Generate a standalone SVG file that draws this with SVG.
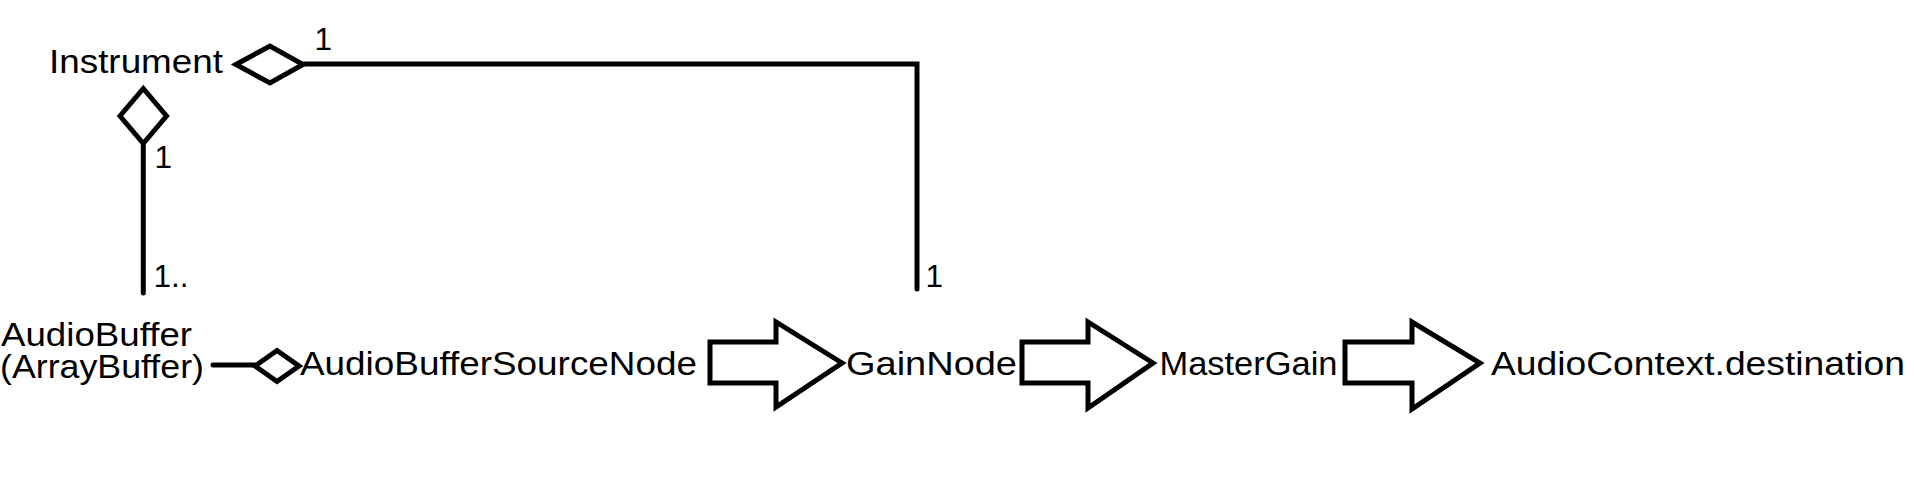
<svg xmlns="http://www.w3.org/2000/svg" width="1914" height="482" viewBox="0 0 1914 482">
<style>
  .lbl { font-family: "Liberation Sans", Arial, Helvetica, sans-serif; font-size: 33.5px; fill: #000; }
  .mult { font-family: "Liberation Sans", Arial, Helvetica, sans-serif; font-size: 31.5px; fill: #000; }
  .ln { fill: none; stroke: #000; stroke-width: 5; stroke-linecap: round; stroke-linejoin: miter; }
  .dia { fill: #fff; stroke: #000; stroke-width: 5; stroke-linejoin: miter; }
  .arrow { fill: #fff; stroke: #000; stroke-width: 5; stroke-linejoin: miter; }
</style>
<rect width="1914" height="482" fill="#fff"/>

<g id="connectors">
  <polyline class="ln" points="303,64 917,64 917,289"/>
  <line class="ln" x1="143.3" y1="143" x2="143.3" y2="293"/>
  <line class="ln" x1="213" y1="365" x2="255" y2="365"/>
  <polygon class="dia" points="236,64.5 270,46 303,64.5 270,83"/>
  <polygon class="dia" points="143.3,88.5 166.5,116 143.3,143.5 120,116"/>
  <polygon class="dia" points="255,366 277,350.5 299,366 277,381.5"/>
  <polygon class="arrow" points="710,342 776,342 776,322 842,363 776,407 776,383 710,383"/>
  <polygon class="arrow" points="1022,342 1088,342 1088,322 1153,363 1088,408 1088,383 1022,383"/>
  <polygon class="arrow" points="1345,342 1412,342 1412,322 1480,363 1412,409 1412,383 1345,383"/>
  <text class="mult" x="314.5" y="50">1</text>
  <text class="mult" x="154.5" y="168">1</text>
  <text class="mult" x="153.5" y="287">1..</text>
  <text class="mult" x="925.5" y="287">1</text>
</g>

<g id="instrument">
  <text class="lbl" x="49" y="73.3" textLength="174" lengthAdjust="spacingAndGlyphs">Instrument</text>
</g>
<g id="audiobuffer">
  <text class="lbl"><tspan x="1" y="345.5" textLength="191" lengthAdjust="spacingAndGlyphs">AudioBuffer</tspan><tspan x="0" y="378" textLength="204" lengthAdjust="spacingAndGlyphs">(ArrayBuffer)</tspan></text>
</g>
<g id="audiobuffersourcenode">
  <text class="lbl" x="300" y="375" textLength="397" lengthAdjust="spacingAndGlyphs">AudioBufferSourceNode</text>
</g>
<g id="gainnode">
  <text class="lbl" x="846" y="375" textLength="171" lengthAdjust="spacingAndGlyphs">GainNode</text>
</g>
<g id="mastergain">
  <text class="lbl" x="1159.5" y="375" textLength="178" lengthAdjust="spacingAndGlyphs">MasterGain</text>
</g>
<g id="audiocontext-destination">
  <text class="lbl" x="1491" y="375" textLength="414" lengthAdjust="spacingAndGlyphs">AudioContext.destination</text>
</g>
</svg>
